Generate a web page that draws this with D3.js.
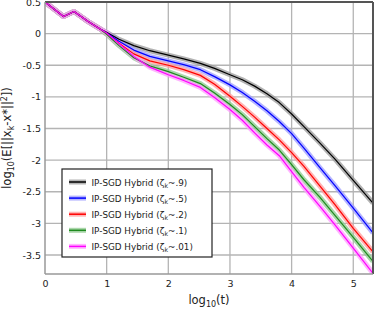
<!DOCTYPE html>
<html>
<head>
<meta charset="utf-8">
<script src="https://cdn.jsdelivr.net/npm/d3@7"></script>
<style>
  body { margin: 0; background: white; }
  svg { display: block; font-family: "DejaVu Sans", sans-serif; }
</style>
</head>
<body>
<div id="chart"></div>
<script>
// log10(t) sample positions shared by every run
const logT = [0, 0.3, 0.47, 0.7, 0.9, 1.0, 1.2, 1.44, 1.7, 2.0, 2.25, 2.52, 2.75,
              3.0, 3.2, 3.4, 3.6, 3.8, 4.0, 4.2, 4.46, 4.7, 5.0, 5.32];

// log10 of expected squared error, one array per zeta setting
const err09  = [0.5, 0.27, 0.35, 0.19, 0.07, 0.02, -0.09, -0.19, -0.27, -0.34, -0.40, -0.47, -0.55,
                -0.65, -0.73, -0.83, -0.95, -1.09, -1.27, -1.47, -1.73, -1.98, -2.32, -2.68];
const err05  = [0.5, 0.27, 0.35, 0.19, 0.07, 0.01, -0.12, -0.26, -0.36, -0.43, -0.49, -0.57, -0.68,
                -0.81, -0.93, -1.07, -1.22, -1.39, -1.58, -1.81, -2.12, -2.40, -2.76, -3.15];
const err02  = [0.5, 0.27, 0.35, 0.19, 0.07, 0.0, -0.15, -0.32, -0.43, -0.50, -0.57, -0.66, -0.80,
                -0.99, -1.15, -1.32, -1.50, -1.68, -1.88, -2.10, -2.41, -2.70, -3.08, -3.45];
const err01  = [0.5, 0.27, 0.35, 0.19, 0.07, -0.01, -0.19, -0.38, -0.51, -0.60, -0.69, -0.79, -0.94,
                -1.12, -1.28, -1.47, -1.66, -1.84, -2.07, -2.31, -2.59, -2.87, -3.22, -3.60];
const err001 = [0.5, 0.27, 0.35, 0.19, 0.07, 0.01, -0.16, -0.36, -0.53, -0.65, -0.74, -0.85, -1.01,
                -1.20, -1.37, -1.57, -1.76, -1.93, -2.18, -2.43, -2.73, -3.02, -3.39, -3.79];

const zetaLabels = [".9", ".5", ".2", ".1", ".01"];
const lineColors = ["#000000", "#0000ff", "#ff0000", "#1f8a1f", "#ff00ff"];
const bandColors = ["#9a9a9a", "#9c9cff", "#ff9c9c", "#8fc98f", "#ff9cff"];

const xTicks = [0, 1, 2, 3, 4, 5];
const yTicks = [0.5, 0, -0.5, -1, -1.5, -2, -2.5, -3, -3.5];

const series = [err09, err05, err02, err01, err001].map((vals, i) => ({
  zeta: zetaLabels[i],
  line: lineColors[i],
  band: bandColors[i],
  points: vals.map((v, j) => [logT[j], v])
}));

const width = 374, height = 311;
const margin = {top: 2, right: 1, bottom: 37, left: 45};
const innerW = width - margin.left - margin.right;
const innerH = height - margin.top - margin.bottom;

const x = d3.scaleLinear().domain([0, 5.32]).range([0, innerW]);
const y = d3.scaleLinear().domain([-3.8, 0.5]).range([innerH, 0]);

const svg = d3.select("#chart").append("svg")
    .attr("width", width)
    .attr("height", height);

const g = svg.append("g")
    .attr("transform", `translate(${margin.left},${margin.top})`);

g.append("clipPath").attr("id", "plotClip")
  .append("rect").attr("width", innerW).attr("height", innerH);

// Grid lines
g.append("g")
  .selectAll("line")
  .data(xTicks.filter(d => d > 0))
  .join("line")
    .attr("x1", d => x(d)).attr("x2", d => x(d))
    .attr("y1", 0).attr("y2", innerH)
    .attr("stroke", "#b4b4b4").attr("stroke-width", 1.3);

g.append("g")
  .selectAll("line")
  .data(yTicks)
  .join("line")
    .attr("x1", 0).attr("x2", innerW)
    .attr("y1", d => y(d)).attr("y2", d => y(d))
    .attr("stroke", "#b4b4b4").attr("stroke-width", 1.3);

// Curves with shaded bands
const line = d3.line().x(d => x(d[0])).y(d => y(d[1]));
const curves = g.append("g").attr("clip-path", "url(#plotClip)");

curves.selectAll("path.band")
  .data(series)
  .join("path")
    .attr("class", "band")
    .attr("d", d => line(d.points))
    .attr("fill", "none")
    .attr("stroke", d => d.band)
    .attr("stroke-opacity", 0.75)
    .attr("stroke-width", 5)
    .attr("stroke-linejoin", "round");

curves.selectAll("path.mean")
  .data(series)
  .join("path")
    .attr("class", "mean")
    .attr("d", d => line(d.points))
    .attr("fill", "none")
    .attr("stroke", d => d.line)
    .attr("stroke-width", 1.2)
    .attr("stroke-linejoin", "round");

// Frame
g.append("line").attr("x1", 0).attr("x2", innerW).attr("y1", 0).attr("y2", 0)
  .attr("stroke", "#555").attr("stroke-width", 2);
g.append("line").attr("x1", innerW).attr("x2", innerW).attr("y1", 0).attr("y2", innerH)
  .attr("stroke", "#555").attr("stroke-width", 2);
g.append("line").attr("x1", 0).attr("x2", 0).attr("y1", 0).attr("y2", innerH)
  .attr("stroke", "#999").attr("stroke-width", 1.5);
g.append("line").attr("x1", 0).attr("x2", innerW).attr("y1", innerH).attr("y2", innerH)
  .attr("stroke", "#999").attr("stroke-width", 1.5);

// Axes (labels only)
const xAxis = g.append("g")
    .attr("transform", `translate(0,${innerH})`)
    .call(d3.axisBottom(x).tickValues(xTicks).tickSize(0).tickPadding(6).tickFormat(d3.format("d")));
const yAxis = g.append("g")
    .call(d3.axisLeft(y).tickValues(yTicks).tickSize(0).tickPadding(4).tickFormat(d => String(d)));
[xAxis, yAxis].forEach(a => {
  a.select(".domain").remove();
  a.selectAll("text").attr("font-size", 9.5).attr("fill", "#222")
    .attr("font-family", "DejaVu Sans, sans-serif");
});

// Axis titles
const xt = svg.append("text")
    .attr("x", margin.left + innerW / 2)
    .attr("y", 304)
    .attr("text-anchor", "middle")
    .attr("font-size", 11.5)
    .attr("fill", "#222");
xt.append("tspan").text("log");
xt.append("tspan").attr("font-size", 8).attr("dy", 3).text("10");
xt.append("tspan").attr("dy", -3).text("(t)");

const yt = svg.append("text")
    .attr("transform", `translate(11,${margin.top + innerH / 2}) rotate(-90)`)
    .attr("text-anchor", "middle")
    .attr("font-size", 11.5)
    .attr("fill", "#222");
yt.append("tspan").text("log");
yt.append("tspan").attr("font-size", 8).attr("dy", 3).text("10");
yt.append("tspan").attr("dy", -3).text("(E[||x");
yt.append("tspan").attr("font-size", 8).attr("dy", 3).text("k");
yt.append("tspan").attr("dy", -3).text("-x*||");
yt.append("tspan").attr("font-size", 8).attr("dy", -4).text("2");
yt.append("tspan").attr("dy", 4).text("])");

// Legend
const legend = svg.append("g").attr("transform", "translate(62,169)");
legend.append("rect")
    .attr("width", 150).attr("height", 88)
    .attr("fill", "white").attr("stroke", "#222").attr("stroke-width", 1.2);

const rows = legend.selectAll("g.row")
  .data(series)
  .join("g")
    .attr("class", "row")
    .attr("transform", (d, i) => `translate(0,${13 + i * 16.1})`);

rows.append("line")
    .attr("x1", 7).attr("x2", 24)
    .attr("stroke", d => d.band).attr("stroke-opacity", 0.75).attr("stroke-width", 5);
rows.append("line")
    .attr("x1", 7).attr("x2", 24)
    .attr("stroke", d => d.line).attr("stroke-width", 1.5);

const lt = rows.append("text")
    .attr("x", 29.5).attr("y", 3.5)
    .attr("font-size", 8.8)
    .attr("fill", "#222");
lt.append("tspan").text("IP-SGD Hybrid (ζ");
lt.append("tspan").attr("font-size", 6.2).attr("dy", 2).text("k");
lt.append("tspan").attr("dy", -2).text(d => `~${d.zeta})`);
</script>
</body>
</html>
